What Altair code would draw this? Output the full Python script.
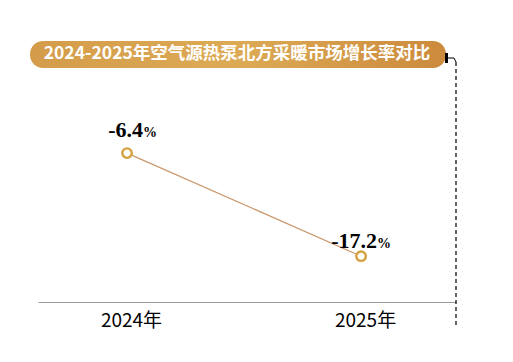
import altair as alt
import pandas as pd

years = ["2024年", "2025年"]
growth = [-6.4, -17.2]
label_text = ["-6.4", "-17.2"]
title_text = "2024-2025年空气源热泵北方采暖市场增长率对比"

df = pd.DataFrame({"year": years, "growth": growth, "label": label_text})

base = alt.Chart(df)
xenc = alt.X("year:N", sort=years,
             scale=alt.Scale(type="point", padding=0.393, align=0.484),
             axis=alt.Axis(title=None, domainColor="#999999", domainWidth=1.2,
                           ticks=False, grid=False, labelAngle=0,
                           labelFont="Noto Sans CJK SC", labelFontSize=19,
                           labelColor="#000000", labelPadding=9, labelOffset=4))
yenc = alt.Y("growth:Q", scale=alt.Scale(domain=[-22, 0]), axis=None)

line = base.mark_line(color="#C9976B", strokeWidth=1.2).encode(x=xenc, y=yenc)
points = base.mark_point(shape="circle", filled=True, fill="white",
                         stroke="#D4A23F", strokeWidth=2.4, size=90, opacity=1).encode(x=xenc, y=yenc)

def labels(yr, dy):
    sub = base.transform_filter(alt.datum.year == yr)
    num = sub.mark_text(font="Liberation Serif", fontWeight="bold", fontSize=22,
                        align="right", baseline="alphabetic", dx=16, dy=dy,
                        color="#000000").encode(x=xenc, y=yenc, text="label:N")
    pct = sub.mark_text(font="Liberation Serif", fontWeight="bold", fontSize=14,
                        align="left", baseline="alphabetic", dx=16, dy=dy,
                        color="#000000").encode(x=xenc, y=yenc, text=alt.value("%"))
    return num + pct

one = alt.Chart(alt.Data(values=[{}]))
grad = alt.LinearGradient(gradient="linear",
                          stops=[alt.GradientStop(color="#D49C4A", offset=0),
                                 alt.GradientStop(color="#DCAA55", offset=0.5),
                                 alt.GradientStop(color="#CC8A3C", offset=1)],
                          x1=0, x2=1, y1=0, y2=0)
pill = one.mark_rect(cornerRadius=13, fill=grad).encode(
    x=alt.value(-8), x2=alt.value(408), y=alt.value(-51), y2=alt.value(-24))
title = one.mark_text(font="Noto Sans CJK SC", fontWeight="bold", fontSize=17.5,
                      color="white", align="center", baseline="middle").encode(
    x=alt.value(199), y=alt.value(-38), text=alt.value(title_text))
block = one.mark_rect(color="black").encode(
    x=alt.value(407), x2=alt.value(410), y=alt.value(-39), y2=alt.value(-29))
hline = one.mark_rule(color="black", strokeWidth=1).encode(
    x=alt.value(410), x2=alt.value(416), y=alt.value(-34))
corner = one.mark_rule(color="black", strokeWidth=1).encode(
    x=alt.value(416), x2=alt.value(418), y=alt.value(-34), y2=alt.value(-30))
vdash = one.mark_rule(color="black", strokeWidth=1.2, strokeDash=[4, 3]).encode(
    x=alt.value(418), y=alt.value(-30), y2=alt.value(236))

chart = alt.layer(line, points, labels("2024年", -16), labels("2025年", -8),
                  pill, title, block, hline, corner, vdash).properties(
    width=418, height=210,
    padding={"left": 30, "top": 84, "right": 45, "bottom": 45},
    autosize=alt.AutoSizeParams(type="none"),
    background="white",
).configure_view(stroke=None)

chart.save("out.html", embed_options={"renderer": "svg", "actions": False})
